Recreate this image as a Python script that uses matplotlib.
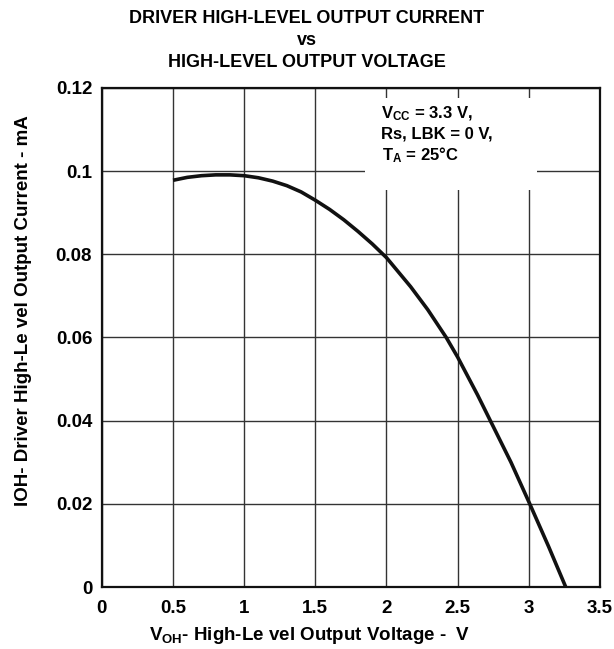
import matplotlib
matplotlib.use('Agg')
from matplotlib import pyplot as plt
from matplotlib.patches import Rectangle

plt.rcParams['font.family'] = 'Liberation Sans'
plt.rcParams['font.weight'] = 'bold'
plt.rcParams['axes.labelweight'] = 'bold'
plt.rcParams['mathtext.fontset'] = 'custom'
plt.rcParams['mathtext.rm'] = 'Liberation Sans:bold'
plt.rcParams['mathtext.bf'] = 'Liberation Sans:bold'
plt.rcParams['mathtext.it'] = 'Liberation Sans:bold'
plt.rcParams['mathtext.default'] = 'bf'

# curve
v_oh = [0.5, 0.6, 0.7, 0.8, 0.9, 1.0, 1.1, 1.2, 1.3, 1.4, 1.5, 1.6, 1.7, 1.8, 1.9,
        2.0, 2.17, 2.29, 2.42, 2.5, 2.64, 2.73, 2.875, 3.007, 3.14, 3.26]
i_oh = [0.0978, 0.0985, 0.0989, 0.0991, 0.0991, 0.0989, 0.0984, 0.0976, 0.0965,
        0.095, 0.093, 0.0908, 0.0883, 0.0855, 0.0825, 0.0792, 0.0722, 0.0667,
        0.06, 0.0553, 0.0462, 0.04, 0.03, 0.02, 0.0097, 0.0]

x_ticks = [0, 0.5, 1, 1.5, 2, 2.5, 3, 3.5]
x_labels = ['0', '0.5', '1', '1.5', '2', '2.5', '3', '3.5']
y_ticks = [0, 0.02, 0.04, 0.06, 0.08, 0.1, 0.12]
y_labels = ['0', '0.02', '0.04', '0.06', '0.08', '0.1', '0.12']

fig = plt.figure(figsize=(6.14, 6.49), dpi=100)
ax = fig.add_axes([0.166, 0.0955, 0.811, 0.769])

ax.plot(v_oh, i_oh, color='#111111', lw=2.6, zorder=4, solid_capstyle='butt')

ax.set_xlim(0, 3.5)
ax.set_ylim(0, 0.12)
ax.set_xticks(x_ticks)
ax.set_xticklabels(x_labels)
ax.set_yticks(y_ticks)
ax.set_yticklabels(y_labels)
ax.tick_params(length=0, labelsize=13.5)
ax.tick_params(axis='x', pad=9)
ax.tick_params(axis='y', pad=7)
ax.grid(True, color='#333333', lw=1.0)
ax.set_axisbelow(True)
for s in ax.spines.values():
    s.set_linewidth(1.6)
    s.set_color('#111111')
    s.set_zorder(5)

# white box behind the conditions text
ax.add_patch(Rectangle((0.528, 0.796), 0.345, 0.184, transform=ax.transAxes,
                       facecolor='white', edgecolor='none', zorder=3))
ax.text(0.560, 0.940, r'$V_{CC}$ = 3.3 V,', transform=ax.transAxes, fontsize=12,
        va='baseline', ha='left', zorder=4)
ax.text(0.560, 0.898, 'Rs, LBK = 0 V,', transform=ax.transAxes, fontsize=12,
        va='baseline', ha='left', zorder=4)
ax.text(0.562, 0.856, r'$T_A$ = 25°C', transform=ax.transAxes, fontsize=12,
        va='baseline', ha='left', zorder=4)

fig.text(0.505, 0.0139, r'$V_{OH}$- High-Le vel Output Voltage -  V', fontsize=13.5,
         ha='center', va='baseline')
fig.text(0.038, 0.522, 'IOH- Driver High-Le vel Output Current - mA', fontsize=13.5,
         ha='center', va='center', rotation=90)

fig.text(0.5, 0.972, 'DRIVER HIGH-LEVEL OUTPUT CURRENT', ha='center', va='center', fontsize=13)
fig.text(0.5, 0.938, 'vs', ha='center', va='center', fontsize=13)
fig.text(0.5, 0.904, 'HIGH-LEVEL OUTPUT VOLTAGE', ha='center', va='center', fontsize=13)

plt.savefig('out.png', dpi=100)
